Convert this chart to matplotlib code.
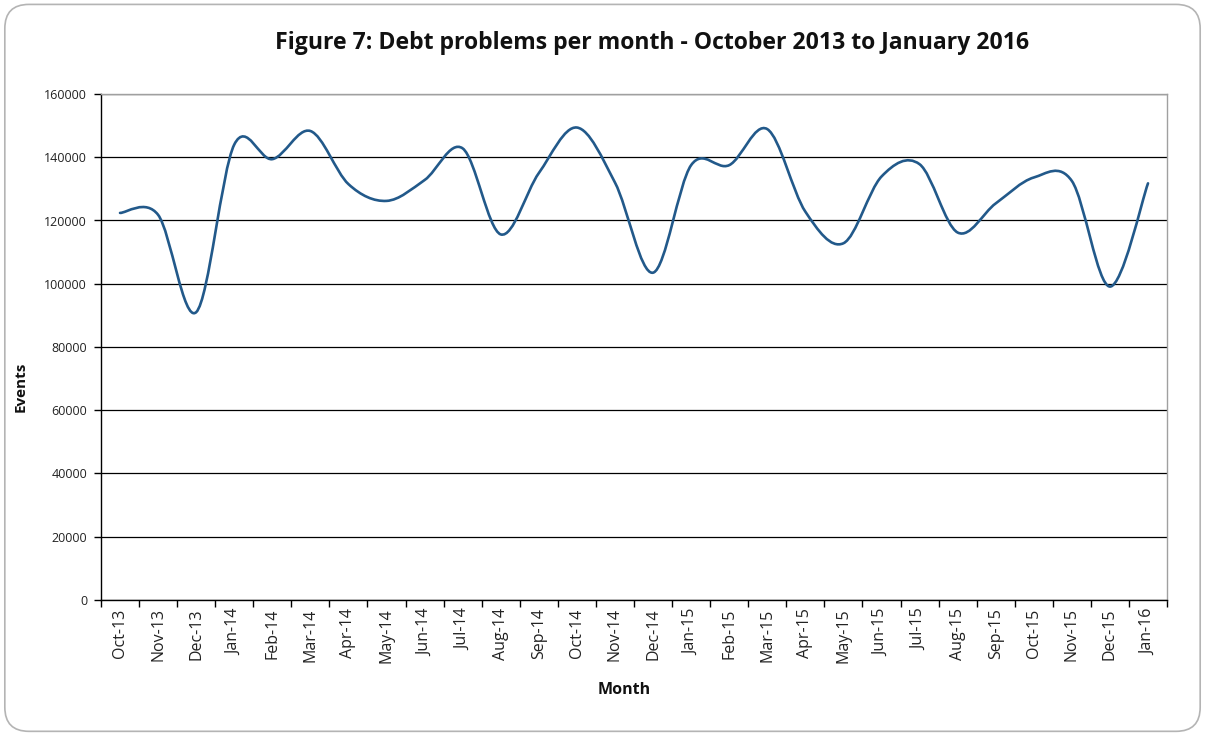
import numpy as np
import matplotlib
matplotlib.use("Agg")
import matplotlib.pyplot as plt
from matplotlib.path import Path
from matplotlib.patches import PathPatch, FancyBboxPatch

# Monthly debt problem events
months = ["Oct-13", "Nov-13", "Dec-13", "Jan-14", "Feb-14", "Mar-14", "Apr-14",
          "May-14", "Jun-14", "Jul-14", "Aug-14", "Sep-14", "Oct-14", "Nov-14",
          "Dec-14", "Jan-15", "Feb-15", "Mar-15", "Apr-15", "May-15", "Jun-15",
          "Jul-15", "Aug-15", "Sep-15", "Oct-15", "Nov-15", "Dec-15", "Jan-16"]
events = [122400, 121800, 91000, 144000, 139400, 148300, 131500,
          126200, 132800, 142800, 115600, 135000, 149400, 132000,
          103500, 137500, 137500, 148900, 122800, 112800, 133900,
          137800, 116200, 125400, 133600, 132500, 99100, 131750]
y_ticks = [0, 20000, 40000, 60000, 80000, 100000, 120000, 140000, 160000]

LINE_COL = "#22598a"
FONT = "Open Sans"


def smooth_path(xs, ys):
    """Cubic Bezier path through the points (Catmull-Rom style control points)."""
    pts = np.column_stack([xs, ys]).astype(float)
    n = len(pts)
    verts = [pts[0]]
    codes = [Path.MOVETO]
    for i in range(n - 1):
        p0 = pts[i - 1] if i > 0 else pts[i]
        p1 = pts[i]
        p2 = pts[i + 1]
        p3 = pts[i + 2] if i + 2 < n else pts[i + 1]
        c1 = p1 + (p2 - p0) / 6.0
        c2 = p2 - (p3 - p1) / 6.0
        verts += [c1, c2, p2]
        codes += [Path.CURVE4] * 3
    return Path(verts, codes)


fig = plt.figure(figsize=(12.05, 7.35), dpi=100)
fig.patch.set_facecolor("white")

# rounded outer frame
frame = FancyBboxPatch((0.004, 0.005), 0.992, 0.989,
                       boxstyle="round,pad=0,rounding_size=0.02",
                       transform=fig.transFigure, facecolor="none",
                       edgecolor="#b4b4b4", linewidth=1.2, mutation_aspect=1.64)
fig.patches.append(frame)

ax = fig.add_axes([0.0838, 0.1837, 0.8847, 0.6884])

x = np.arange(len(months))
ax.add_patch(PathPatch(smooth_path(x, events), facecolor="none",
                       edgecolor=LINE_COL, linewidth=1.9, capstyle="round",
                       joinstyle="round", zorder=3))

ax.set_xlim(-0.5, len(months) - 0.5)
ax.set_ylim(0, 160000)

ax.set_yticks(y_ticks)
ax.set_yticklabels([str(v) for v in y_ticks], fontsize=9, family=FONT, color="#222222")
ax.yaxis.grid(True, color="black", linewidth=0.9)
ax.set_axisbelow(True)

# category ticks sit between months, labels at the centres
ax.set_xticks(np.arange(-0.5, len(months), 1.0))
ax.set_xticklabels([])
ax.set_xticks(x, minor=True)
ax.set_xticklabels(months, minor=True, rotation=90, fontsize=11.5, family=FONT,
                   color="#222222")
ax.tick_params(axis="x", which="minor", length=0, pad=6)
ax.tick_params(axis="x", which="major", length=5, width=1, direction="out")
ax.tick_params(axis="y", length=5, width=1, direction="out", pad=5)

for side in ("left", "bottom"):
    ax.spines[side].set_color("black")
    ax.spines[side].set_linewidth(1.0)
for side in ("top", "right"):
    ax.spines[side].set_color("#a0a0a0")
    ax.spines[side].set_linewidth(1.0)

fig.text(0.518, 0.061, "Month", ha="center", va="center", fontsize=11.5,
         family=FONT, fontweight="bold", color="#111111")
fig.text(0.0175, 0.4735, "Events", ha="center", va="center", rotation=90,
         fontsize=11, family=FONT, fontweight="bold", color="#111111")

fig.text(0.541, 0.942, "Figure 7: Debt problems per month - October 2013 to January 2016",
         ha="center", va="center", fontsize=16.6, family=FONT, fontweight="bold",
         color="#111111")

fig.savefig("out.png", dpi=100)
